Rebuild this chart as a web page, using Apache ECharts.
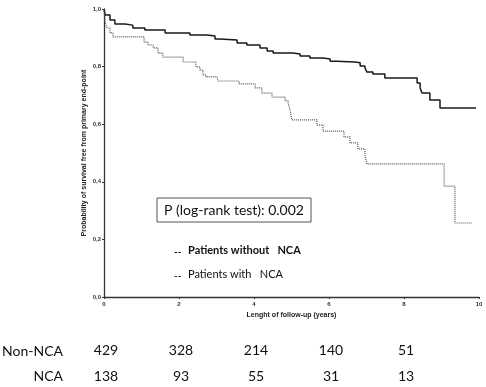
<!DOCTYPE html>
<html>
<head>
<meta charset="utf-8">
<script src="https://cdn.jsdelivr.net/npm/echarts@6/dist/echarts.min.js"></script>
<style>
  html, body { margin: 0; padding: 0; background: #fff; }
  #chart { width: 486px; height: 387px; }
</style>
</head>
<body>
<div id="chart"></div>
<script>
// Kaplan-Meier steps: [years, survival after the drop]
const nonNcaCurve = [
  [0, 1.0], [0.03, 0.979], [0.16, 0.962], [0.29, 0.948], [0.56, 0.944],
  [0.77, 0.934], [1.09, 0.927], [1.63, 0.917], [2.29, 0.910], [2.75, 0.906],
  [2.96, 0.896], [3.09, 0.892], [3.55, 0.882], [3.81, 0.875], [4.16, 0.865],
  [4.35, 0.854], [4.51, 0.847], [5.04, 0.844], [5.23, 0.837], [5.49, 0.830],
  [5.84, 0.826], [6.03, 0.819], [6.21, 0.816], [6.69, 0.813], [6.83, 0.802],
  [6.96, 0.795], [7.01, 0.781], [7.17, 0.774], [7.49, 0.760], [8.35, 0.743],
  [8.43, 0.726], [8.48, 0.708], [8.69, 0.684], [8.96, 0.656], [9.92, 0.656]
]
const ncaCurve = [
  [0, 1.0], [0.03, 0.955], [0.08, 0.934], [0.16, 0.917], [0.24, 0.903],
  [1.07, 0.885], [1.17, 0.875], [1.31, 0.865], [1.44, 0.847], [1.57, 0.833],
  [2.11, 0.816], [2.45, 0.799], [2.56, 0.788], [2.64, 0.771], [2.72, 0.764],
  [3.01, 0.760], [3.04, 0.750], [3.60, 0.740], [4.03, 0.726], [4.21, 0.708],
  [4.48, 0.694], [4.83, 0.681], [4.91, 0.674], [4.96, 0.649], [5.01, 0.615],
  [5.68, 0.597], [5.84, 0.576], [6.40, 0.556], [6.56, 0.535], [6.77, 0.514],
  [6.96, 0.493], [7.01, 0.462], [9.07, 0.385], [9.36, 0.257], [9.81, 0.257]
]
// numbers at risk
const riskTimes = [0, 2, 4, 6, 8]
const riskNonNca = [429, 328, 214, 140, 51]
const riskNca = [138, 93, 55, 31, 13]
const rowNames = ['Non-NCA', 'NCA']
const legendNames = ['Patients without   NCA', 'Patients with   NCA']
const pText = 'P (log-rank test): 0.002'

const chart = echarts.init(document.getElementById('chart'))
const axisFont = { fontFamily: 'Liberation Sans', fontWeight: 'bold', fontSize: 6, color: '#333' }

chart.setOption({
  animation: false,
  grid: { left: 104, right: 7, top: 9, bottom: 90 },
  xAxis: {
    type: 'value',
    min: 0,
    max: 10,
    interval: 2,
    name: 'Lenght of follow-up (years)',
    nameLocation: 'middle',
    nameGap: 15,
    nameTextStyle: { fontFamily: 'Liberation Sans', fontWeight: 'bold', fontSize: 7, color: '#222' },
    axisLine: { lineStyle: { color: '#333', width: 1.3 } },
    axisTick: { length: 2, lineStyle: { color: '#333' } },
    axisLabel: Object.assign({ margin: 4 }, axisFont),
    splitLine: { show: false }
  },
  yAxis: {
    type: 'value',
    min: 0,
    max: 1,
    interval: 0.2,
    name: 'Probability of survival free from primary end-point',
    nameLocation: 'middle',
    nameRotate: 90,
    nameGap: 16,
    nameMoveOverlap: false,
    nameTextStyle: { fontFamily: 'Liberation Sans', fontWeight: 'bold', fontSize: 7, color: '#222' },
    axisLine: { show: true, lineStyle: { color: '#333', width: 1.3 } },
    axisTick: { show: true, length: 2, lineStyle: { color: '#333' } },
    axisLabel: Object.assign({
      margin: 3,
      formatter: function(v) { return v.toFixed(1).replace('.', ',') }
    }, axisFont),
    splitLine: { show: false }
  },
  series: [
    {
      name: legendNames[0],
      type: 'line',
      step: 'end',
      data: nonNcaCurve,
      symbol: 'none',
      lineStyle: { color: '#1a1a1a', width: 1.5 }
    },
    {
      name: legendNames[1],
      type: 'line',
      step: 'end',
      data: ncaCurve,
      symbol: 'none',
      lineStyle: { color: '#555', width: 1.2, type: [1, 1] }
    }
  ]
})

// text parts: p-value box, legend, numbers at risk
const graphics = [
  {
    type: 'rect',
    shape: { x: 157, y: 198, width: 154, height: 24 },
    style: { fill: '#fff', stroke: '#555', lineWidth: 1 }
  },
  {
    type: 'text',
    x: 234, y: 210,
    style: { text: pText, font: '14px Lato', fill: '#111', align: 'center', verticalAlign: 'middle' }
  },
  {
    type: 'text', x: 174, y: 252,
    style: { text: '--', font: 'bold 10px Lato', fill: '#111', verticalAlign: 'middle' }
  },
  {
    type: 'text', x: 188, y: 250,
    style: { text: legendNames[0], font: 'bold 11px Lato', fill: '#111', verticalAlign: 'middle' }
  },
  {
    type: 'text', x: 174, y: 276,
    style: { text: '--', font: 'bold 10px Lato', fill: '#333', verticalAlign: 'middle' }
  },
  {
    type: 'text', x: 188, y: 274,
    style: { text: legendNames[1], font: '11px Lato', fill: '#111', verticalAlign: 'middle' }
  },
  {
    type: 'text', x: 63, y: 351,
    style: { text: rowNames[0], font: '14px Lato', fill: '#111', align: 'right', verticalAlign: 'middle' }
  },
  {
    type: 'text', x: 63, y: 376,
    style: { text: rowNames[1], font: '14px Lato', fill: '#111', align: 'right', verticalAlign: 'middle' }
  }
]
riskTimes.forEach(function(t, i) {
  const px = chart.convertToPixel({ xAxisIndex: 0 }, t) + 2
  graphics.push({
    type: 'text', x: px, y: 350,
    style: { text: String(riskNonNca[i]), font: '14px Lato', fill: '#111', align: 'center', verticalAlign: 'middle' }
  })
  graphics.push({
    type: 'text', x: px, y: 376,
    style: { text: String(riskNca[i]), font: '14px Lato', fill: '#111', align: 'center', verticalAlign: 'middle' }
  })
})
chart.setOption({ graphic: graphics })
</script>
</body>
</html>
